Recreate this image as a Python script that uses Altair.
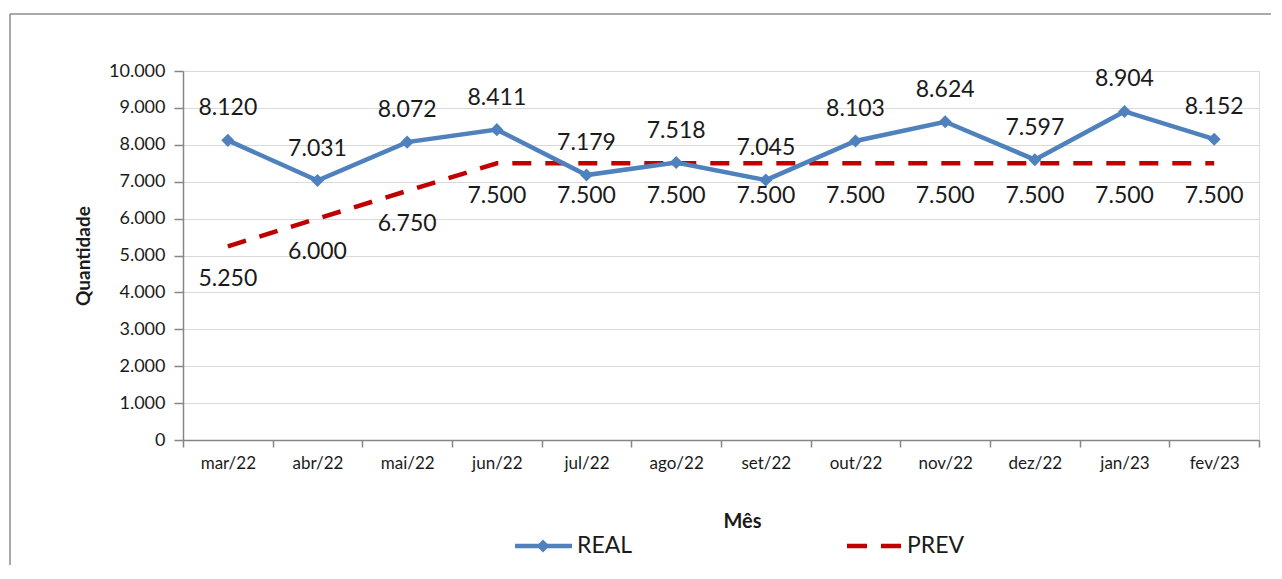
import altair as alt
import pandas as pd

months = ["mar/22", "abr/22", "mai/22", "jun/22", "jul/22", "ago/22",
          "set/22", "out/22", "nov/22", "dez/22", "jan/23", "fev/23"]
real = [8120, 7031, 8072, 8411, 7179, 7518, 7045, 8103, 8624, 7597, 8904, 8152]
prev = [5250, 6000, 6750, 7500, 7500, 7500, 7500, 7500, 7500, 7500, 7500, 7500]
series = ["REAL", "PREV"]
y_ticks = list(range(0, 10001, 1000))

FONT = "Lato"
BLUE = "#4F81BD"
RED = "#C00000"
TXT = "#1a1a1a"

real_df = pd.DataFrame({"Mês": months, "Quantidade": real})
prev_df = pd.DataFrame({"Mês": months, "Quantidade": prev})
one_df = pd.DataFrame({"k": [0]})  # single row for decorations / legend

W, H = 1076, 369

lbl_expr = "replace(format(datum.Quantidade, ','), ',', '.')"

x_enc = alt.X(
    "Mês:N", sort=months,
    scale=alt.Scale(type="band", paddingInner=0, paddingOuter=0),
    axis=alt.Axis(
        title="Mês", tickBand="extent", grid=False,
        labelAngle=0, labelFont=FONT, labelFontSize=17, labelColor=TXT,
        labelPadding=8, tickSize=7, tickColor="#868686", tickWidth=1.5,
        domainColor="#868686", domainWidth=1.5,
        titleFont=FONT, titleFontSize=20, titleFontWeight="bold",
        titleColor=TXT, titlePadding=40, titleX=559, titleAlign="center",
    ),
)
y_enc = alt.Y(
    "Quantidade:Q",
    scale=alt.Scale(domain=[0, 10000], nice=False),
    axis=alt.Axis(
        title="Quantidade", values=y_ticks,
        labelExpr="replace(format(datum.value, ','), ',', '.')",
        labelFont=FONT, labelFontSize=18, labelColor=TXT, labelPadding=9,
        tickSize=9, tickColor="#868686", tickWidth=1.5,
        domainColor="#868686", domainWidth=1.5,
        gridColor="#d9d9d9", gridWidth=1.2,
        titleFont=FONT, titleFontSize=19, titleFontWeight="bold",
        titleColor=TXT, titlePadding=15,
    ),
)

prev_line = alt.Chart(prev_df).mark_line(
    color=RED, strokeWidth=4.5, strokeDash=[19, 14]
).encode(x=x_enc, y=y_enc)

real_line = alt.Chart(real_df).mark_line(
    color=BLUE, strokeWidth=4.5,
    point=alt.OverlayMarkDef(shape="diamond", size=170, filled=True, color=BLUE, opacity=1),
).encode(x=x_enc, y=y_enc)

real_text = alt.Chart(real_df).transform_calculate(lbl=lbl_expr).mark_text(
    font=FONT, fontSize=23, fontWeight="normal", color=TXT, baseline="middle", dy=-32
).encode(x=x_enc, y=y_enc, text="lbl:N")

prev_text = alt.Chart(prev_df).transform_calculate(lbl=lbl_expr).mark_text(
    font=FONT, fontSize=23, fontWeight="normal", color=TXT, baseline="middle", dy=33
).encode(x=x_enc, y=y_enc, text="lbl:N")

# chart frame (decoration)
frame_left = alt.Chart(one_df).mark_rule(color="#8c8c8c", strokeWidth=1.5).encode(
    x=alt.value(-173), y=alt.value(-57), y2=alt.value(520)
)
frame_top = alt.Chart(one_df).mark_rule(color="#8c8c8c", strokeWidth=1.5).encode(
    x=alt.value(-173), x2=alt.value(1110), y=alt.value(-57)
)

# manual legend
LY = 475
leg_real_line = alt.Chart(one_df).mark_rule(color=BLUE, strokeWidth=4.5).encode(
    x=alt.value(332), x2=alt.value(389), y=alt.value(LY)
)
leg_real_pt = alt.Chart(one_df).mark_point(
    shape="diamond", size=170, filled=True, color=BLUE, opacity=1
).encode(x=alt.value(360), y=alt.value(LY))
leg_real_txt = alt.Chart(one_df).mark_text(
    text=series[0], font=FONT, fontSize=23, fontWeight="normal", color=TXT,
    align="left", baseline="middle"
).encode(x=alt.value(394), y=alt.value(LY))
leg_prev_line = alt.Chart(one_df).mark_rule(
    color=RED, strokeWidth=4.5, strokeDash=[20, 14]
).encode(x=alt.value(664), x2=alt.value(718), y=alt.value(LY))
leg_prev_txt = alt.Chart(one_df).mark_text(
    text=series[1], font=FONT, fontSize=23, fontWeight="normal", color=TXT,
    align="left", baseline="middle"
).encode(x=alt.value(724), y=alt.value(LY))

chart = alt.layer(
    frame_left, frame_top,
    prev_line, real_line, real_text, prev_text,
    leg_real_line, leg_real_pt, leg_real_txt, leg_prev_line, leg_prev_txt,
).properties(
    width=W, height=H,
    autosize=alt.AutoSizeParams(type="none"),
    padding={"left": 175, "top": 63, "right": 12, "bottom": 125},
).configure_view(stroke=None).configure(background="white")

chart.save("out.html", embed_options={"renderer": "svg", "actions": False})
